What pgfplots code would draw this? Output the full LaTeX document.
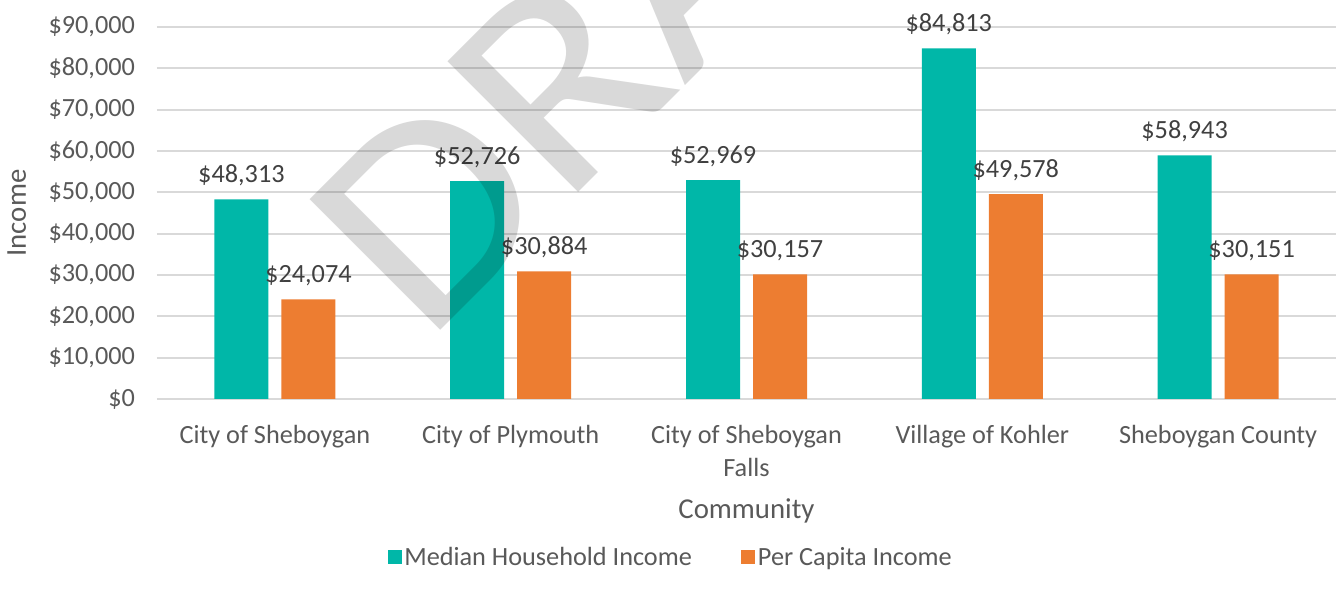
\documentclass[border=0pt]{standalone}
\usepackage{fontspec}
\setmainfont{Carlito}
\usepackage{pgfplots}
\pgfplotsset{compat=1.18}

\definecolor{tealbar}{RGB}{0,183,168}
\definecolor{orangebar}{RGB}{237,125,49}
\definecolor{txtgray}{RGB}{89,89,89}
\definecolor{lbldark}{RGB}{64,64,64}
\definecolor{gridgray}{RGB}{217,217,217}

\newcommand\fs{\fontsize{19.7}{24.75}\selectfont}
\newcommand\fl{\fontsize{21.6}{26}\selectfont}

\begin{document}
\begin{tikzpicture}
\begin{axis}[
  scale only axis, width=884.25pt, height=279pt,
  xmin=-0.5, xmax=4.5, ymin=0, ymax=90000,
  ybar=9.75pt, bar width=40.5pt,
  axis line style={draw=none},
  tick style={draw=none},
  ymajorgrids, major grid style={draw=gridgray, line width=1.5pt},
  ytick={0,10000,...,90000},
  scaled y ticks=false,
  /pgf/number format/assume math mode=true,
  yticklabel={\$\pgfmathprintnumber[fixed,1000 sep={,}]{\tick}},
  yticklabel style={anchor=east, xshift=-13pt, font=\fs, text=txtgray},
  xtick=data,
  xticklabels={City of Sheboygan, City of Plymouth, {City of Sheboygan\\Falls}, Village of Kohler, Sheboygan County},
  xticklabel style={anchor=north, yshift=-12pt, align=center, font=\fs, text=txtgray},
  ylabel={Income},
  ylabel style={at={(axis description cs:-0.119,0.5)}, anchor=center, font=\fl, text=txtgray},
  xlabel={Community},
  xlabel style={at={(axis description cs:0.5,-0.3)}, anchor=center, font=\fl, text=txtgray},
  nodes near coords={\$\pgfmathprintnumber[fixed,1000 sep={,}]{\pgfplotspointmeta}},
  every node near coord/.append style={font=\fs, text=lbldark, yshift=6.5pt},
  legend style={at={(axis description cs:0.436,-0.425)}, anchor=center,
    legend columns=2, draw=none, font=\fs, text=txtgray,
    /tikz/every even column/.append style={column sep=35pt}},
  legend image code/.code={\fill[#1] (0pt,-5.25pt) rectangle (10.5pt,5.25pt);},
]
\addplot[fill=tealbar, draw=none] coordinates {(0,48313) (1,52726) (2,52969) (3,84813) (4,58943)};
\addlegendentry{Median Household Income}
\addplot[fill=orangebar, draw=none] coordinates {(0,24074) (1,30884) (2,30157) (3,49578) (4,30151)};
\addlegendentry{Per Capita Income}
\end{axis}
% watermark
\node[rotate=45, xscale=1.1, anchor=base west, inner sep=0, text=black, text opacity=0.15,
  font=\fontsize{216}{216}\selectfont] at (201pt,39.75pt) {DRAFT};
\pgfresetboundingbox
\path (-117.75pt,-149.25pt) rectangle (885.75pt,299.25pt);
\end{tikzpicture}
\end{document}
